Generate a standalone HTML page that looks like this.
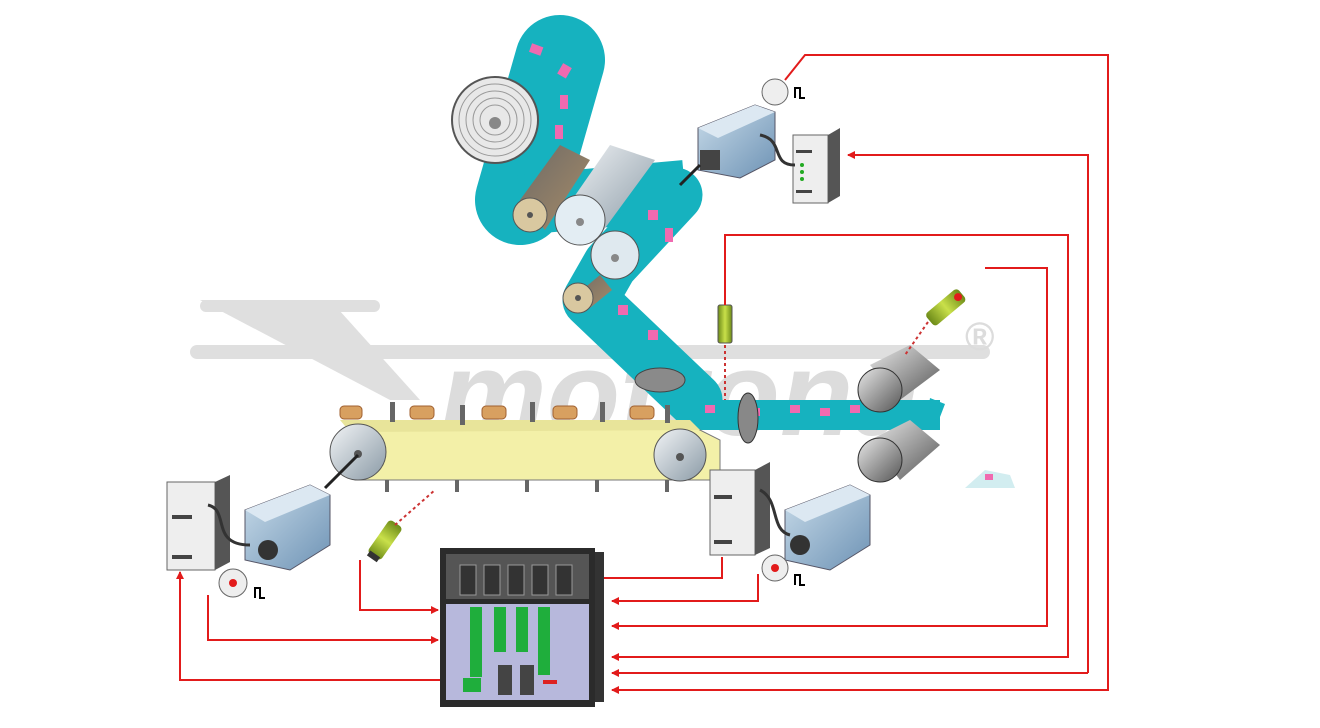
<!DOCTYPE html>
<html><head><meta charset="utf-8"><style>html,body{margin:0;padding:0;background:#fff}svg{display:block}</style></head>
<body>
<svg width="1320" height="728" viewBox="0 0 1320 728" xmlns="http://www.w3.org/2000/svg" font-family="Liberation Sans, sans-serif">
<defs>
<linearGradient id="mt" x1="0" y1="0" x2="1" y2="1"><stop offset="0" stop-color="#c9dcea"/><stop offset="1" stop-color="#6e93b5"/></linearGradient>
<linearGradient id="sil" x1="0" y1="0" x2="1" y2="1"><stop offset="0" stop-color="#f2f4f6"/><stop offset="1" stop-color="#8a9aa6"/></linearGradient>
<linearGradient id="brz" x1="0" y1="0" x2="1" y2="1"><stop offset="0" stop-color="#6d6a66"/><stop offset="1" stop-color="#a88c68"/></linearGradient>
<linearGradient id="dk" x1="0" y1="0" x2="1" y2="1"><stop offset="0" stop-color="#e8e8e8"/><stop offset="1" stop-color="#555"/></linearGradient>
<linearGradient id="gr" x1="0" y1="0" x2="1" y2="0"><stop offset="0" stop-color="#6c8a18"/><stop offset=".5" stop-color="#c9e04a"/><stop offset="1" stop-color="#6c8a18"/></linearGradient>
<marker id="ar" markerWidth="8" markerHeight="8" refX="7" refY="4" orient="auto" markerUnits="userSpaceOnUse"><path d="M0,0 L8,4 L0,8z" fill="#e21b1b"/></marker>
</defs>

<!-- watermark -->
<g fill="#dcdcdc" opacity=".9">
<polygon points="200,300 330,300 420,400 390,400"/>
<rect x="190" y="345" width="800" height="14" rx="7"/>
<rect x="200" y="300" width="180" height="12" rx="6"/>
</g>
<text x="440" y="435" font-size="120" font-weight="bold" font-style="italic" fill="#dcdcdc">motrona</text>
<text x="965" y="350" font-size="40" font-weight="bold" fill="#dcdcdc">®</text>

<!-- web band -->
<g stroke="#16b2bf" fill="none" stroke-linejoin="round">
<path d="M560 60 L520 200" stroke-width="90" stroke-linecap="round"/>
<path d="M520 205 L685 190" stroke-width="60"/>
<path d="M675 195 L610 265 L590 300 L695 400" stroke-width="55" stroke-linecap="round"/>
</g>
<rect x="690" y="400" width="250" height="30" fill="#16b2bf"/>
<polygon points="930,398 945,404 935,430 925,430" fill="#16b2bf"/>
<g fill="#f06ab0">
<rect x="530" y="45" width="12" height="9" transform="rotate(20 536 50)"/>
<rect x="560" y="65" width="10" height="12" transform="rotate(30 565 70)"/>
<rect x="560" y="95" width="8" height="14"/>
<rect x="555" y="125" width="8" height="14"/>
<rect x="648" y="210" width="10" height="10"/>
<rect x="665" y="228" width="8" height="14"/>
<rect x="618" y="305" width="10" height="10"/>
<rect x="648" y="330" width="10" height="10"/>
<rect x="705" y="405" width="10" height="8"/>
<rect x="750" y="408" width="10" height="8"/>
<rect x="790" y="405" width="10" height="8"/>
<rect x="820" y="408" width="10" height="8"/>
<rect x="850" y="405" width="10" height="8"/>
</g>
<!-- big roll -->
<circle cx="495" cy="120" r="43" fill="#e8e8e8" stroke="#555" stroke-width="2"/>
<g fill="none" stroke="#999" stroke-width="1"><circle cx="495" cy="120" r="36"/><circle cx="495" cy="120" r="29"/><circle cx="495" cy="120" r="22"/><circle cx="495" cy="120" r="15"/></g>
<circle cx="495" cy="123" r="6" fill="#888"/>
<!-- rollers -->
<polygon points="520,200 560,145 590,160 545,230" fill="url(#brz)"/>
<circle cx="530" cy="215" r="17" fill="#d9c8a0" stroke="#555"/><circle cx="530" cy="215" r="3" fill="#555"/>
<polygon points="565,210 610,145 655,160 600,235" fill="url(#sil)"/>
<ellipse cx="580" cy="220" rx="25" ry="25" fill="#e3edf3" stroke="#555"/><circle cx="580" cy="222" r="4" fill="#888"/>
<circle cx="615" cy="255" r="24" fill="#dfe9ef" stroke="#555"/><circle cx="615" cy="258" r="4" fill="#888"/>
<polygon points="570,300 600,275 612,290 585,312" fill="url(#brz)"/>
<circle cx="578" cy="298" r="15" fill="#d9c8a0" stroke="#555"/><circle cx="578" cy="298" r="3" fill="#555"/>
<!-- rings -->
<ellipse cx="660" cy="380" rx="25" ry="12" fill="#8a8a8a" stroke="#444"/>
<ellipse cx="748" cy="418" rx="10" ry="25" fill="#888" stroke="#333"/>

<!-- conveyor -->
<polygon points="355,425 690,425 720,440 720,480 355,480" fill="#f3f0a8" stroke="#777"/>
<polygon points="340,420 690,420 700,430 350,432" fill="#e8e49a"/>
<g fill="#666">
<rect x="390" y="402" width="5" height="20"/><rect x="460" y="405" width="5" height="20"/><rect x="530" y="402" width="5" height="20"/><rect x="600" y="402" width="5" height="20"/><rect x="665" y="405" width="5" height="18"/>
<rect x="385" y="480" width="4" height="12"/><rect x="455" y="480" width="4" height="12"/><rect x="525" y="480" width="4" height="12"/><rect x="595" y="480" width="4" height="12"/><rect x="665" y="480" width="4" height="12"/>
</g>
<g fill="#d8a060" stroke="#a06030">
<rect x="340" y="406" width="22" height="13" rx="4"/><rect x="410" y="406" width="24" height="13" rx="4"/><rect x="482" y="406" width="24" height="13" rx="4"/><rect x="553" y="406" width="24" height="13" rx="4"/><rect x="630" y="406" width="24" height="13" rx="4"/>
</g>
<circle cx="358" cy="452" r="28" fill="url(#sil)" stroke="#555"/><circle cx="358" cy="454" r="4" fill="#555"/>
<circle cx="680" cy="455" r="26" fill="url(#sil)" stroke="#555"/><circle cx="680" cy="457" r="4" fill="#555"/>
<line x1="358" y1="455" x2="325" y2="488" stroke="#222" stroke-width="3"/>

<!-- cutter -->
<polygon points="870,365 910,345 940,370 900,400" fill="url(#dk)"/>
<circle cx="880" cy="390" r="22" fill="url(#dk)" stroke="#333"/>
<polygon points="870,440 910,420 940,445 900,480" fill="url(#dk)"/>
<circle cx="880" cy="460" r="22" fill="url(#dk)" stroke="#333"/>
<polygon points="965,488 985,470 1010,475 1015,488" fill="#bfe5ea" opacity=".7"/>
<rect x="985" y="474" width="8" height="6" fill="#f06ab0"/>

<!-- motors -->
<g>
<polygon points="245,510 310,485 330,495 330,545 290,570 245,560" fill="url(#mt)" stroke="#556"/>
<polygon points="245,510 310,485 330,495 265,522" fill="#dce8f2"/>
<circle cx="268" cy="550" r="10" fill="#333"/>
<rect x="167" y="482" width="48" height="88" fill="#eee" stroke="#666"/><polygon points="215,482 230,475 230,562 215,570" fill="#555"/>
<rect x="172" y="515" width="20" height="4" fill="#444"/><rect x="172" y="555" width="20" height="4" fill="#444"/>
<path d="M208 505 C230 510 210 545 250 545" stroke="#333" stroke-width="3" fill="none"/>
<circle cx="233" cy="583" r="14" fill="#eee" stroke="#666"/><circle cx="233" cy="583" r="4" fill="#e21b1b"/>
<path d="M255 598 v-10 h5 v10 h5" stroke="#000" stroke-width="2" fill="none"/>
</g>
<g>
<polygon points="785,510 850,485 870,495 870,545 830,570 785,560" fill="url(#mt)" stroke="#556"/>
<polygon points="785,510 850,485 870,495 805,522" fill="#dce8f2"/>
<circle cx="800" cy="545" r="10" fill="#333"/>
<rect x="710" y="470" width="45" height="85" fill="#eee" stroke="#666"/><polygon points="755,470 770,462 770,548 755,555" fill="#555"/>
<rect x="714" y="495" width="18" height="4" fill="#444"/><rect x="714" y="540" width="18" height="4" fill="#444"/>
<path d="M760 490 C780 500 770 530 790 535" stroke="#333" stroke-width="3" fill="none"/>
<circle cx="775" cy="568" r="13" fill="#eee" stroke="#666"/><circle cx="775" cy="568" r="4" fill="#e21b1b"/>
<path d="M795 585 v-10 h5 v10 h5" stroke="#000" stroke-width="2" fill="none"/>
</g>
<g>
<polygon points="698,128 755,105 775,112 775,160 740,178 698,170" fill="url(#mt)" stroke="#556"/>
<polygon points="698,128 755,105 775,112 718,138" fill="#dce8f2"/>
<rect x="700" y="150" width="20" height="20" fill="#444"/>
<line x1="700" y1="165" x2="680" y2="185" stroke="#222" stroke-width="3"/>
<rect x="793" y="135" width="35" height="68" fill="#eee" stroke="#666"/><polygon points="828,135 840,128 840,196 828,203" fill="#555"/>
<rect x="796" y="150" width="16" height="3" fill="#444"/><rect x="796" y="190" width="16" height="3" fill="#444"/>
<g fill="#2a2"><circle cx="802" cy="165" r="2"/><circle cx="802" cy="172" r="2"/><circle cx="802" cy="179" r="2"/></g>
<path d="M760 135 C785 140 770 165 795 165" stroke="#333" stroke-width="3" fill="none"/>
<circle cx="775" cy="92" r="13" fill="#eee" stroke="#666"/>
<path d="M795 98 v-10 h5 v10 h5" stroke="#000" stroke-width="2" fill="none"/>
</g>

<!-- sensors -->
<g transform="rotate(-55 385 540)"><rect x="365" y="532" width="40" height="16" rx="4" fill="url(#gr)"/><rect x="362" y="534" width="6" height="12" fill="#333"/></g>
<line x1="395" y1="525" x2="435" y2="490" stroke="#c33" stroke-width="2" stroke-dasharray="3,3"/>
<rect x="718" y="305" width="14" height="38" rx="2" fill="url(#gr)" stroke="#555"/>
<line x1="725" y1="345" x2="725" y2="400" stroke="#c33" stroke-width="2" stroke-dasharray="3,3"/>
<g transform="rotate(-40 945 308)"><rect x="925" y="300" width="42" height="16" rx="4" fill="url(#gr)"/><circle cx="962" cy="308" r="4" fill="#e21b1b"/></g>
<line x1="928" y1="322" x2="905" y2="355" stroke="#c33" stroke-width="2" stroke-dasharray="3,3"/>

<!-- controller -->
<rect x="592" y="552" width="12" height="150" fill="#333"/>
<rect x="440" y="548" width="155" height="159" fill="#2b2b2b"/>
<rect x="446" y="554" width="143" height="45" fill="#555"/>
<rect x="446" y="604" width="143" height="96" fill="#b7b8dc"/>
<g fill="#333" stroke="#999"><rect x="460" y="565" width="16" height="30"/><rect x="484" y="565" width="16" height="30"/><rect x="508" y="565" width="16" height="30"/><rect x="532" y="565" width="16" height="30"/><rect x="556" y="565" width="16" height="30"/></g>
<g fill="#1fae3c"><rect x="470" y="607" width="12" height="70"/><rect x="494" y="607" width="12" height="45"/><rect x="516" y="607" width="12" height="45"/><rect x="538" y="607" width="12" height="68"/><rect x="463" y="678" width="18" height="14"/></g>
<rect x="498" y="665" width="14" height="30" fill="#444"/><rect x="520" y="665" width="14" height="30" fill="#444"/>
<rect x="543" y="680" width="14" height="4" fill="#d22"/>

<!-- red wiring -->
<g stroke="#e21b1b" stroke-width="2" fill="none">
<polyline points="360,560 360,610 438,610" marker-end="url(#ar)"/>
<polyline points="208,595 208,640 438,640" marker-end="url(#ar)"/>
<polyline points="440,680 180,680 180,572" marker-end="url(#ar)"/>
<polyline points="604,578 722,578 722,557"/>
<polyline points="758,574 758,601 612,601" marker-end="url(#ar)"/>
<polyline points="985,268 1047,268 1047,626 612,626" marker-end="url(#ar)"/>
<polyline points="725,305 725,235 1068,235 1068,657 612,657" marker-end="url(#ar)"/>
<polyline points="1088,673 1088,155 848,155" marker-end="url(#ar)"/>
<polyline points="1088,673 612,673" marker-end="url(#ar)"/>
<polyline points="785,80 805,55 1108,55 1108,690 612,690" marker-end="url(#ar)"/>
</g>
</svg>
</body></html>
